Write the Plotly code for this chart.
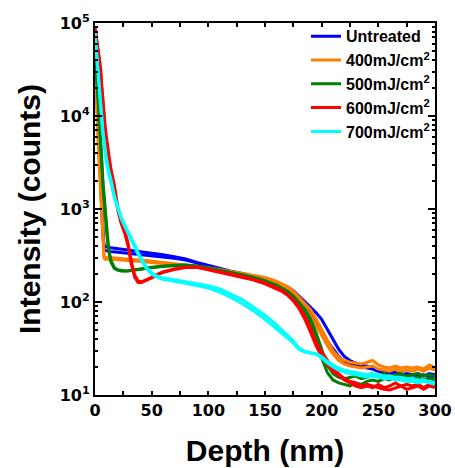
import plotly.graph_objects as go

# Sputter depth (nm) shared by every profile
depth = [0, 1, 2, 3, 4, 5, 6, 7, 8, 9,
         10, 12, 14, 17, 20, 23, 26, 29, 32, 35,
         38, 41, 45, 50, 55, 60, 70, 80, 90, 100,
         110, 120, 130, 140, 150, 160, 165, 170, 175, 180,
         185, 190, 195, 200, 205, 210, 215, 220, 225, 230,
         235, 240, 245, 250, 255, 260, 265, 270, 275, 280,
         285, 290, 295, 300]

# Intensity (counts), two measured profiles per sample
untreated_1 = [62000, 30000, 14000, 7000, 3800, 2000, 1100, 600, 410, 396,
               392, 388, 384, 380, 376, 372, 368, 364, 360, 356,
               352, 348, 343, 337, 330, 322, 306, 290, 266, 246,
               229, 214, 203, 191, 178, 164, 155, 145, 132, 116,
               102, 89, 77, 65, 51, 40, 31, 26, 23.5, 22,
               20.5, 20.5, 19.5, 18.5, 18.5, 17.5, 17.5, 16.5, 17, 16.5,
               17, 16, 17, 16.5]
untreated_2 = [55000, 26000, 12000, 6000, 3300, 1800, 950, 520, 370, 358,
               354, 352, 349, 346, 343, 340, 337, 334, 331, 328,
               325, 322, 319, 315, 310, 305, 295, 282, 262, 243,
               226, 212, 200, 188, 175, 160, 151, 140, 126, 108,
               92, 76, 62, 49, 38, 31, 26, 23, 21.5, 21,
               20, 19.5, 19, 18, 17.5, 17.5, 16.5, 17, 16, 16.5,
               16, 16.5, 15.5, 16]
mj400_1 = [45000, 18000, 9000, 5000, 3000, 1800, 1000, 480, 312, 303,
           300, 301, 300, 298, 297, 295, 293, 291, 289, 287,
           285, 282, 279, 275, 271, 267, 259, 251, 243, 234,
           224, 214, 204, 194, 184, 168, 158, 146, 131, 113,
           98, 83, 66, 51, 39, 30, 25.5, 23.5, 22.5, 22,
           21.5, 22.5, 23.5, 21, 20, 19.5, 20.5, 19.5, 20, 19.5,
           20, 19, 21, 19.5]
mj400_2 = [40000, 16000, 8000, 4500, 2600, 1500, 850, 420, 295, 289,
           288, 289, 288, 287, 286, 285, 283, 281, 279, 277,
           275, 273, 270, 267, 263, 259, 252, 245, 238, 229,
           219, 209, 199, 189, 179, 162, 151, 139, 123, 104,
           88, 72, 57, 44, 34, 27.5, 23.5, 21.5, 20.5, 20,
           19.5, 20, 20.5, 19, 18.5, 18, 19, 18, 18.5, 18,
           19, 18, 19.5, 18.5]
mj500_1 = [55000, 38000, 25000, 16000, 10000, 5500, 3000, 2000, 1400, 950,
           650, 380, 280, 235, 222, 218, 216, 217, 219, 222,
           225, 228, 231, 236, 240, 244, 248, 250, 244, 232,
           220, 208, 196, 184, 170, 152, 142, 130, 115, 97,
           79, 59, 40, 25, 17.5, 14.5, 13.5, 13, 12.5, 13.5,
           13, 14, 14.5, 14, 15, 14.5, 15.5, 15, 16, 15,
           15.5, 14.5, 15, 14.5]
mj500_2 = [48000, 33000, 22000, 14000, 8500, 4800, 2700, 1800, 1250, 850,
           600, 360, 270, 230, 220, 216, 215, 216, 218, 221,
           224, 227, 230, 234, 238, 242, 246, 248, 242, 230,
           218, 206, 194, 182, 168, 150, 140, 129, 116, 100,
           84, 66, 47, 31, 21, 17, 15.5, 15, 15.5, 16,
           15, 15.5, 16.5, 16, 17, 16, 16.5, 17, 16, 16.5,
           17, 16, 16.5, 16]
mj600_1 = [90000, 75000, 62000, 52000, 43000, 32000, 21000, 14000, 10000, 7600,
           6000, 3800, 2700, 1850, 1050, 740, 590, 440, 275, 195,
           168, 165, 172, 184, 198, 210, 227, 237, 238, 225,
           212, 200, 188, 175, 160, 143, 133, 121, 106, 89,
           71, 53, 37, 29, 24, 19.5, 17, 15, 14, 13.5,
           12.5, 13, 12.5, 12, 11.5, 11.3, 12, 12.5, 11.5, 12,
           12.5, 11.5, 12.5, 12]
mj600_2 = [85000, 70000, 58000, 48000, 39000, 28000, 19000, 12800, 9000, 7000,
           5500, 3500, 2500, 1700, 980, 700, 560, 410, 255, 185,
           162, 162, 170, 182, 196, 208, 224, 235, 236, 222,
           209, 197, 185, 172, 157, 140, 130, 118, 103, 85,
           66, 48, 34, 26, 21, 18, 16, 14.5, 13.5, 12.5,
           12, 12.5, 12, 13, 12, 12.5, 13.5, 12.5, 13, 12.5,
           13, 12, 13, 12.5]
mj700_1 = [80000, 55000, 38000, 25000, 17000, 12500, 9500, 7000, 5500, 4300,
           3500, 2600, 2100, 1400, 1050, 820, 680, 580, 490, 410,
           340, 290, 240, 205, 190, 182, 174, 166, 158, 150,
           138, 122, 106, 88, 72, 57, 50, 44, 38, 32,
           29.5, 28.5, 28, 26, 23, 21, 19.5, 18.5, 18, 17.5,
           17, 16.5, 17, 16.5, 16, 16, 15.5, 15.5, 15, 15,
           14.5, 14.5, 14, 13.5]
mj700_2 = [75000, 50000, 34000, 22000, 15000, 11000, 8500, 6300, 5000, 3900,
           3200, 2400, 1950, 1320, 1000, 790, 660, 560, 470, 390,
           325, 278, 232, 198, 184, 176, 168, 159, 150, 141,
           128, 112, 96, 80, 65, 52, 46, 41, 36, 31,
           29, 28, 27.5, 25, 22, 20, 18.5, 17.5, 17, 16.5,
           16, 15.5, 16, 15.5, 15, 15, 14.5, 14.5, 14, 14,
           13.5, 14, 13.5, 13]

series_names = ["Untreated", "400mJ/cm<sup>2</sup>", "500mJ/cm<sup>2</sup>",
                "600mJ/cm<sup>2</sup>", "700mJ/cm<sup>2</sup>"]
series_colors = ["#0000ff", "#ff7f00", "#008000", "#ff0000", "#00ffff"]
series_runs = [(untreated_1, untreated_2), (mj400_1, mj400_2),
               (mj500_1, mj500_2), (mj600_1, mj600_2), (mj700_1, mj700_2)]

y_tickvals = [10, 100, 1000, 10000, 100000]
y_ticktext = ["10<sup>1</sup>", "10<sup>2</sup>", "10<sup>3</sup>",
              "10<sup>4</sup>", "10<sup>5</sup>"]
x_tickvals = [0, 50, 100, 150, 200, 250, 300]

FONT = "Liberation Sans, Arial, sans-serif"
TICK_FONT = "DejaVu Sans, sans-serif"

fig = go.Figure()
for name, color, runs in zip(series_names, series_colors, series_runs):
    for k, run in enumerate(runs):
        fig.add_trace(go.Scatter(
            x=depth, y=run, mode="lines", name=name,
            legendgroup=name, showlegend=(k == 0),
            line=dict(color=color, width=3),
        ))

minor_y = [m * 10 ** e for e in range(1, 5) for m in range(2, 10)]

axis_common = dict(
    showline=True, linecolor="black", linewidth=2, mirror="ticks",
    ticks="inside", tickcolor="black", tickwidth=1.5,
    showgrid=False, zeroline=False, automargin=False,
    tickfont=dict(family=TICK_FONT, size=16, color="black", weight="bold"),
)

fig.update_layout(
    width=455, height=468,
    margin=dict(l=95, r=20, t=23, b=73, autoexpand=False),
    paper_bgcolor="white", plot_bgcolor="white",
    font=dict(family=FONT, color="black", weight="bold"),
    legend=dict(
        x=1.0, y=1.01, xanchor="right", yanchor="top",
        bgcolor="rgba(0,0,0,0)", borderwidth=0,
        font=dict(family=FONT, size=16, color="black", weight="bold"),
        tracegroupgap=0, itemwidth=30,
    ),
    xaxis=dict(
        axis_common, range=[0, 300], tickmode="array", tickvals=x_tickvals,
        ticklen=4,
        minor=dict(dtick=25, tick0=0, ticks="inside", ticklen=4, tickcolor="black"),
        title=dict(text="Depth (nm)", standoff=21,
                   font=dict(family=FONT, size=30, color="black", weight="bold")),
    ),
    yaxis=dict(
        axis_common, type="log", range=[1, 5], tickmode="array",
        tickvals=y_tickvals, ticktext=y_ticktext, ticklen=7,
        minor=dict(tickmode="array", tickvals=minor_y, ticks="inside",
                   ticklen=3, tickcolor="black"),
        title=dict(text="Intensity (counts)", standoff=10,
                   font=dict(family=FONT, size=30, color="black", weight="bold")),
    ),
)

fig.write_html("out.html")
